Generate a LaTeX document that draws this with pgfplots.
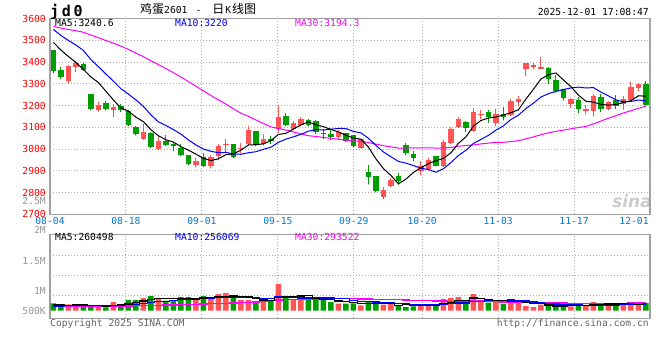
\documentclass[border=0pt]{standalone}
\usepackage{fontspec}
\usepackage{pgfplots}
\usepackage{pgfplotstable}
\pgfplotsset{compat=1.18}
\setmonofont{DejaVu Sans Mono}
\newfontfamily\cjk{Noto Sans CJK SC}
\newfontfamily\wmfont{DejaVu Sans}
\definecolor{upred}{RGB}{255,85,85}
\definecolor{dngreen}{RGB}{0,158,0}
\definecolor{ma10c}{RGB}{0,0,255}
\definecolor{ma30c}{RGB}{255,0,255}
\definecolor{gridc}{RGB}{175,175,175}
\definecolor{framec}{RGB}{160,160,160}
\definecolor{tickblue}{RGB}{0,120,215}
\definecolor{labgray}{RGB}{150,150,150}
\definecolor{copygray}{RGB}{100,100,100}
\definecolor{wmgray}{RGB}{205,205,205}
\newcommand\mono{\ttfamily\fontsize{9.7bp}{11bp}\selectfont}

% rising (red) days: index, open, high, low, close, volume
\pgfplotstableread{
i O H L C V
2 3312 3384 3304 3382 241000
3 3378 3404 3355 3396 178000
6 3180 3214 3174 3204 178000
8 3180 3205 3148 3194 330000
12 3048 3116 3045 3079 483000
14 2999 3056 2995 3038 483000
19 2926 2960 2917 2946 445000
21 2923 2972 2911 2964 445000
22 2969 3021 2949 3013 635000
23 3020 3048 2987 3025 673000
25 3001 3028 2980 3006 406000
26 3022 3105 3018 3087 406000
28 3022 3068 3018 3045 406000
30 3091 3204 3076 3148 1016000
32 3094 3128 3087 3120 406000
33 3110 3148 3105 3137 483000
38 3056 3087 3048 3079 267000
41 3006 3048 3003 3044 203000
44 2780 2826 2771 2811 229000
45 2831 2865 2826 2857 292000
49 2900 2946 2880 2921 254000
50 2908 2957 2903 2949 254000
52 2923 3041 2921 3032 445000
53 3028 3102 3025 3091 483000
54 3102 3148 3099 3137 521000
56 3084 3189 3082 3169 635000
57 3156 3179 3140 3162 356000
59 3120 3183 3104 3160 330000
61 3156 3229 3153 3220 445000
62 3214 3243 3198 3229 356000
63 3367 3397 3336 3396 178000
64 3379 3396 3367 3385 140000
65 3370 3423 3369 3378 229000
69 3209 3233 3189 3232 165000
71 3176 3201 3159 3182 203000
72 3175 3252 3152 3244 330000
74 3186 3220 3179 3214 229000
76 3205 3243 3183 3229 229000
77 3224 3306 3224 3286 330000
78 3281 3301 3267 3298 229000
}\up

% falling (green) days
\pgfplotstableread{
i O H L C V
0 3454 3456 3351 3358 279000
1 3362 3378 3321 3332 241000
4 3393 3395 3362 3362 178000
5 3252 3254 3178 3183 203000
7 3212 3220 3178 3183 127000
9 3198 3209 3171 3178 241000
10 3174 3178 3106 3110 406000
11 3102 3104 3063 3067 406000
13 3074 3078 3007 3010 559000
15 3038 3064 3015 3018 381000
16 3021 3028 2992 3016 381000
17 3005 3025 2969 2972 521000
18 2972 2973 2926 2930 521000
20 2964 2980 2918 2923 559000
24 3022 3024 2960 2964 483000
27 3082 3083 3015 3018 318000
29 3044 3061 3024 3039 406000
31 3151 3166 3105 3110 508000
34 3133 3140 3105 3110 432000
35 3128 3133 3068 3079 432000
36 3073 3091 3048 3068 406000
37 3071 3087 3041 3056 330000
39 3073 3075 3033 3036 267000
40 3064 3066 3010 3013 279000
42 2895 2926 2839 2872 330000
43 2875 2877 2801 2808 330000
46 2874 2888 2837 2854 178000
47 3018 3027 2972 2980 140000
48 2976 2990 2946 2960 165000
51 2967 2969 2921 2923 191000
55 3125 3131 3079 3097 330000
58 3169 3179 3122 3148 305000
60 3160 3194 3133 3145 254000
66 3373 3378 3301 3321 203000
67 3316 3339 3260 3267 165000
68 3275 3278 3224 3235 178000
70 3224 3240 3166 3183 229000
73 3238 3252 3171 3186 292000
75 3224 3247 3186 3198 229000
79 3298 3312 3201 3202 292000
}\dn

% moving averages: price MA5/10/30, volume MA5/10/30
\pgfplotstableread{
i m5 m10 m30 v5 v10 v30
0 3490 3549.5 3563.8 215000 180000 152000
1 3455 3521.8 3555.8 212000 182000 154000
2 3425 3499.1 3549.5 210000 185000 156000
3 3398 3477.8 3543.7 212000 188000 158000
4 3366 3453.1 3536.7 223000 190000 160000
5 3331 3410.5 3523.8 208000 193000 162000
6 3305.4 3378.6 3511.6 196000 196000 164000
7 3265.6 3344.6 3498.7 173000 200000 166000
8 3225.2 3311.7 3486.1 203000 208000 170000
9 3188.4 3277.2 3473 216000 220000 175000
10 3173.8 3252.4 3457.6 256000 232000 180000
11 3146.4 3225.9 3440.8 302000 249000 185000
12 3125.6 3195.6 3424.4 373000 273000 190000
13 3088.8 3157 3405.7 419000 311000 197000
14 3060.8 3124.6 3387.9 467000 342000 205000
15 3042.4 3108.1 3369.5 462000 359000 214000
16 3032.2 3089.3 3351 457000 380000 222000
17 3010.8 3068.2 3331 465000 419000 230000
18 2994.8 3041.8 3309.6 457000 438000 238000
19 2976.4 3018.6 3288.8 450000 459000 246000
20 2957.4 2999.9 3267.2 485000 474000 254000
21 2947 2989.6 3245.7 498000 478000 262000
22 2955.2 2983 3225.8 521000 493000 272000
23 2974.2 2984.5 3206.3 551000 504000 282000
24 2977.8 2977.1 3184.8 559000 504000 292000
25 2994.4 2975.9 3164.7 528000 507000 305000
26 3019 2983 3150.2 521000 509000 318000
27 3020 2987.6 3133.4 457000 489000 335000
28 3024 2999.1 3117.5 404000 478000 355000
29 3039 3008.4 3101.4 388000 474000 384000
30 3067.4 3030.9 3094.4 510000 519000 409000
31 3072 3045.5 3087 531000 526000 417000
32 3092.4 3056.2 3078.3 548000 503000 423000
33 3110.8 3067.4 3069.6 564000 484000 433000
34 3125 3082 3061.2 569000 479000 442000
35 3111.2 3089.3 3057.8 452000 481000 449000
36 3102.8 3087.4 3053.2 432000 481000 457000
37 3090 3091.2 3049 417000 483000 464000
38 3078.4 3094.6 3045.2 373000 469000 461000
39 3063.6 3094.3 3040.4 340000 455000 462000
40 3050.4 3080.8 3037.2 310000 381000 458000
41 3045.6 3074.2 3036.4 269000 351000 451000
42 3008.8 3049.4 3029.5 269000 343000 446000
43 2954.6 3016.5 3022.8 282000 328000 439000
44 2909.6 2986.6 3015.2 274000 307000 430000
45 2878.4 2964.4 3009.9 277000 293000 427000
46 2840.4 2943 3004.5 206000 271000 420000
47 2862 2935.4 3004.7 234000 252000 408000
48 2892.4 2923.5 3005.7 201000 241000 396000
49 2914.4 2912 3004.9 206000 240000 389000
50 2932.8 2905.6 3005.8 198000 238000 379000
51 2946.6 2893.5 3004.4 201000 236000 371000
52 2957 2909.5 3005 262000 248000 365000
53 2983.2 2937.8 3007.2 325000 263000 358000
54 3026.4 2970.4 3013 379000 292000 359000
55 3056 2994.4 3016 394000 296000 357000
56 3105.2 3025.9 3018.8 483000 342000 365000
57 3131.2 3044.1 3023.6 465000 363000 366000
58 3142.6 3062.9 3027 429000 377000 362000
59 3147.2 3086.8 3031 391000 385000 360000
60 3156.8 3106.4 3030.9 376000 385000 335000
61 3167 3136.1 3034.6 338000 410000 332000
62 3180.4 3155.8 3038.2 338000 402000 331000
63 3230 3186.3 3046.9 313000 371000 321000
64 3275 3211.1 3056 275000 333000 311000
65 3321.6 3239.2 3066 270000 323000 304000
66 3341.8 3254.4 3074.4 221000 280000 297000
67 3349.4 3264.9 3081.5 183000 261000 292000
68 3317.2 3273.6 3086.7 183000 248000 289000
69 3286.6 3280.8 3093.2 188000 231000 285000
70 3247.6 3284.6 3098.9 188000 229000 284000
71 3219.8 3280.8 3103.5 188000 205000 284000
72 3215.2 3282.3 3115.9 221000 202000 284000
73 3205.4 3261.3 3128.5 244000 213000 283000
74 3201.8 3244.2 3141.9 257000 222000 283000
75 3204.8 3226.2 3153.3 257000 222000 280000
76 3214.2 3217 3165.8 262000 225000 282000
77 3222.6 3218.9 3176 262000 241000 288000
78 3245 3225.2 3187.2 249000 247000 291000
79 3242.6 3222.2 3196.6 262000 259000 292000
}\ma

\pgfplotsset{
  klinebase/.style={
    scale only axis, width=600bp,
    xmin=-0.46, xmax=79.54,
    axis line style={draw=framec, line width=1.2bp},
    major tick length=0pt,
    xtick={-0.46,9.667,19.79,29.92,40.05,49.16,59.29,69.41,79.54},
    grid=major,
    major grid style={draw=gridc, line width=1bp, dash pattern=on 1bp off 2bp},
  },
  candle/.style={only marks, mark=*, mark size=0.01bp, mark options={draw=none, fill=none}, forget plot,
    error bars/y dir=plus, error bars/y explicit, error bars/error mark=none},
}

\begin{document}
\begin{tikzpicture}[x=1bp,y=1bp]
\useasboundingbox (0,0) rectangle (660,360);

% watermark
\node[anchor=base east, inner sep=0pt, font=\wmfont\bfseries\itshape\fontsize{17bp}{17bp}\selectfont, text=wmgray] at (652,153) {sina};

% ---------- price panel ----------
\begin{axis}[klinebase, at={(50bp,145.7bp)}, anchor=south west, height=195.8bp,
  ymin=2700, ymax=3600,
  ytick={2700,2800,2900,3000,3100,3200,3300,3400,3500,3600},
  yticklabels={2700,2800,2900,3000,3100,3200,3300,3400,3500,3600},
  yticklabel style={font=\mono, text=red, anchor=east, inner sep=0pt, xshift=-4bp},
  xticklabels={08-04,08-18,09-01,09-15,09-29,10-20,11-03,11-17,{}},
  xticklabel style={font=\mono, text=tickblue, anchor=north, inner sep=0pt, yshift=-3bp},
  extra x ticks={79.54}, extra x tick labels={12-01},
  extra x tick style={xticklabel style={xshift=-16bp}},
]
% wicks
\addplot[candle, error bars/error bar style={draw=upred, solid, line width=1bp}]
  table[x=i, y=L, y error expr=\thisrow{H}-\thisrow{L}] {\up};
\addplot[candle, error bars/error bar style={draw=dngreen, solid, line width=1bp}]
  table[x=i, y=L, y error expr=\thisrow{H}-\thisrow{L}] {\dn};
% bodies
\addplot[candle, error bars/error bar style={draw=upred, solid, line width=5.5bp}]
  table[x=i, y=O, y error expr=\thisrow{C}-\thisrow{O}] {\up};
\addplot[candle, error bars/error bar style={draw=dngreen, solid, line width=5.5bp}]
  table[x=i, y=C, y error expr=\thisrow{O}-\thisrow{C}] {\dn};
% moving averages
\addplot[ma30c, line width=1bp, mark=none] table[x=i, y=m30] {\ma};
\addplot[ma10c, line width=1bp, mark=none] table[x=i, y=m10] {\ma};
\addplot[black, line width=1bp, mark=none] table[x=i, y=m5] {\ma};
\end{axis}

% ---------- volume panel ----------
\begin{axis}[klinebase, at={(50bp,41.7bp)}, anchor=south west, height=83.6bp,
  ymin=-289560, ymax=2895600, scaled y ticks=false,
  ytick={579120,1341120,2110740},
  xticklabels={}, yticklabels={},
]
\addplot[ybar, bar width=5.5bp, bar shift=0pt, fill=upred, draw=none] table[x=i, y=V] {\up};
\addplot[ybar, bar width=5.5bp, bar shift=0pt, fill=dngreen, draw=none] table[x=i, y=V] {\dn};
\addplot[const plot mark mid, ma30c, line width=1.3bp, mark=none] table[x=i, y=v30] {\ma};
\addplot[const plot mark mid, ma10c, line width=1.3bp, mark=none] table[x=i, y=v10] {\ma};
\addplot[const plot mark mid, black, line width=1.3bp, mark=none] table[x=i, y=v5] {\ma};
\end{axis}

% ---------- texts ----------
\node[anchor=base west, inner sep=0pt, font=\ttfamily\bfseries\fontsize{15bp}{15bp}\selectfont] at (50,344)
  {\makebox[11.7bp][l]{j}\makebox[11.7bp][l]{d}0};
\node[anchor=base west, inner sep=0pt] at (140,346.4)
  {\cjk\fontsize{12bp}{12bp}\selectfont 鸡蛋{\mono 2601}\hspace{8bp}{\mono -}\hspace{11bp}日\hspace{1bp}{\mono K}\hspace{1bp}线图};
\node[anchor=base east, inner sep=0pt, font=\mono] at (649,345) {2025-12-01 17:08:47};

\node[anchor=base west, inner sep=0pt, font=\mono] at (55,333.3) {MA5:3240.6};
\node[anchor=base west, inner sep=0pt, font=\mono, text=ma10c] at (175,333.3) {MA10:3220};
\node[anchor=base west, inner sep=0pt, font=\mono, text=ma30c] at (295,333.3) {MA30:3194.3};

\node[anchor=base west, inner sep=0pt, font=\mono] at (55,119.3) {MA5:260498};
\node[anchor=base west, inner sep=0pt, font=\mono, text=ma10c] at (175,119.3) {MA10:256069};
\node[anchor=base west, inner sep=0pt, font=\mono, text=ma30c] at (295,119.3) {MA30:293522};

\node[anchor=east, inner sep=0pt, font=\mono, text=labgray] at (46,159.5) {2.5M};
\node[anchor=east, inner sep=0pt, font=\mono, text=labgray] at (46,130) {2M};
\node[anchor=east, inner sep=0pt, font=\mono, text=labgray] at (46,99.3) {1.5M};
\node[anchor=east, inner sep=0pt, font=\mono, text=labgray] at (46,69.3) {1M};
\node[anchor=east, inner sep=0pt, font=\mono, text=labgray] at (46,49.3) {500K};

\node[anchor=base west, inner sep=0pt, font=\mono, text=copygray] at (50,33.7) {Copyright 2025 SINA.COM};
\node[anchor=base east, inner sep=0pt, font=\mono, text=copygray] at (649,33.7) {http://finance.sina.com.cn};
\end{tikzpicture}
\end{document}
